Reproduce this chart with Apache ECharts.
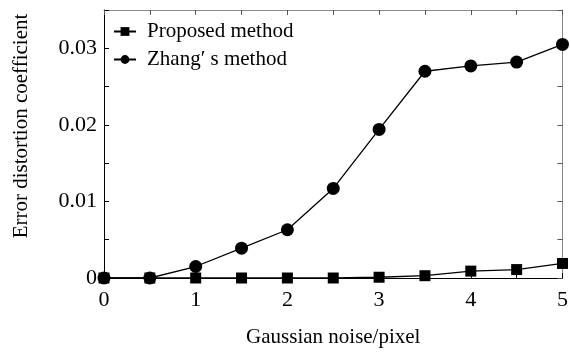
<!DOCTYPE html>
<html>
<head>
<meta charset="utf-8">
<script src="https://cdn.jsdelivr.net/npm/echarts@6/dist/echarts.min.js"></script>
<style>
  html, body { margin: 0; padding: 0; background: #fff; }
  #chart { width: 571px; height: 353px; }
</style>
</head>
<body>
<div id="chart"></div>
<script>
// 噪声水平
var noise = [0, 0.5, 1, 1.5, 2, 2.5, 3, 3.5, 4, 4.5, 5];
// 本文方法
var proposed = [0, 0, 0, 0, 0, 0, 0.0001, 0.0003, 0.0009, 0.0011, 0.0019];
// Zhang方法
var zhang = [0, 0, 0.0015, 0.0039, 0.0063, 0.0117, 0.0194, 0.0270, 0.0277, 0.0282, 0.0305];
var xLabels = ['0', '1', '2', '3', '4', '5'];
var yLabels = ['0', '0.01', '0.02', '0.03'];

function pairs(xs, ys) {
    var out = [];
    for (var i = 0; i < xs.length; i++) {
        out.push([xs[i], ys[i]]);
    }
    return out;
}

var font = 'Liberation Serif';
var chart = echarts.init(document.getElementById('chart'));

var option = {
    animation: false,
    textStyle: { fontFamily: font },
    grid: { left: 104, right: 5, top: 10, bottom: 74 },
    legend: {
        orient: 'vertical',
        left: 108,
        top: 16,
        itemWidth: 22,
        itemHeight: 11,
        itemGap: 7,
        textStyle: { fontFamily: font, fontSize: 21, color: '#000', padding: [0, 0, 0, 6] },
        data: ['Proposed method', 'Zhang′ s method']
    },
    xAxis: [{
        type: 'value',
        min: 0, max: 5, interval: 0.5,
        name: 'Gaussian noise/pixel',
        nameLocation: 'middle',
        nameGap: 49,
        nameTextStyle: { fontFamily: font, fontSize: 21, color: '#000' },
        axisLine: { lineStyle: { color: '#000', width: 1 } },
        axisTick: { inside: true, length: 5, lineStyle: { color: '#000' } },
        splitLine: { show: false },
        axisLabel: {
            fontFamily: font, fontSize: 22, color: '#000', margin: 11,
            formatter: function (v) {
                return xLabels.indexOf(String(v)) >= 0 ? String(v) : '';
            }
        }
    }, {
        // 上边框
        type: 'value',
        position: 'top',
        min: 0, max: 5, interval: 0.5,
        axisLine: { show: true, onZero: false, lineStyle: { color: '#888', width: 1 } },
        axisTick: { show: true, inside: true, length: 5, lineStyle: { color: '#555' } },
        axisLabel: { show: false },
        splitLine: { show: false }
    }],
    yAxis: [{
        type: 'value',
        min: 0, max: 0.035, interval: 0.005,
        name: 'Error distortion coefficient',
        nameLocation: 'middle',
        nameGap: 72,
        nameTextStyle: { fontFamily: font, fontSize: 21, color: '#000', padding: [0, 0, 0, 36] },
        axisLine: { show: true, lineStyle: { color: '#000', width: 1 } },
        axisTick: { show: true, inside: true, length: 5, lineStyle: { color: '#000' } },
        splitLine: { show: false },
        axisLabel: {
            fontFamily: font, fontSize: 22, color: '#000', margin: 7,
            formatter: function (v) {
                var s = String(Math.round(v * 1000) / 1000);
                return yLabels.indexOf(s) >= 0 ? s : '';
            }
        }
    }, {
        // 右边框
        type: 'value',
        position: 'right',
        min: 0, max: 0.035, interval: 0.005,
        axisLine: { show: true, onZero: false, lineStyle: { color: '#888', width: 1 } },
        axisTick: { show: true, inside: true, length: 5, lineStyle: { color: '#555' } },
        axisLabel: { show: false },
        splitLine: { show: false }
    }],
    series: [{
        name: 'Proposed method',
        type: 'line',
        data: pairs(noise, proposed),
        symbol: 'rect',
        symbolSize: 11,
        lineStyle: { color: '#000', width: 1.3 },
        itemStyle: { color: '#000' },
        z: 3
    }, {
        name: 'Zhang′ s method',
        type: 'line',
        data: pairs(noise, zhang),
        symbol: 'circle',
        symbolSize: 13,
        lineStyle: { color: '#000', width: 1.3 },
        itemStyle: { color: '#000' },
        z: 2
    }, {
        // 占位系列，让上/右坐标轴显示
        type: 'line',
        xAxisIndex: 1,
        yAxisIndex: 1,
        data: [],
        silent: true
    }]
};

chart.setOption(option);
</script>
</body>
</html>
